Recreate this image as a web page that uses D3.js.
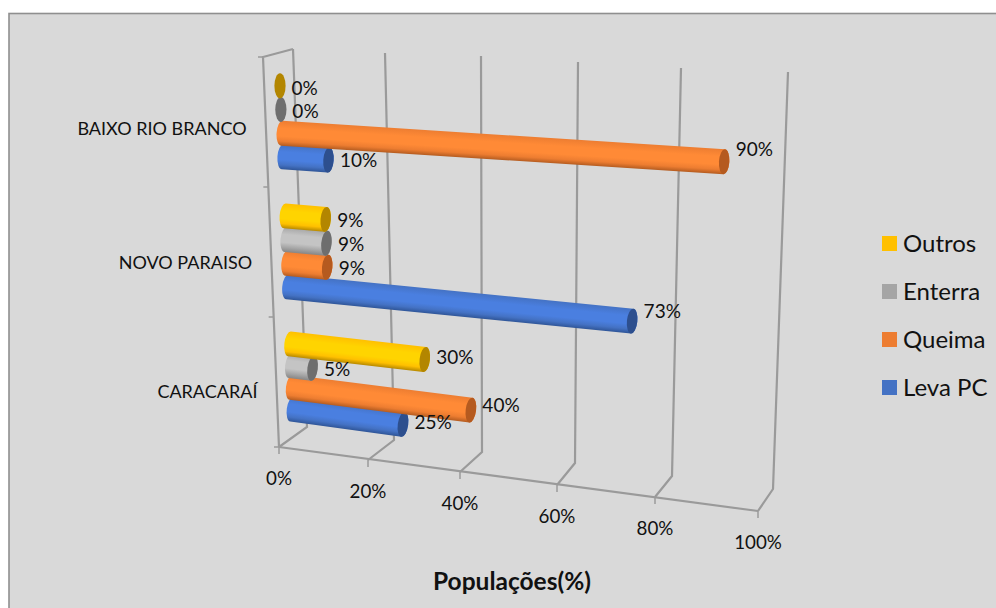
<!DOCTYPE html>
<html>
<head>
<meta charset="utf-8">
<script src="https://cdn.jsdelivr.net/npm/d3@7"></script>
<style>
html, body { margin: 0; padding: 0; background: #fff; }
svg { display: block; }
text { font-family: Lato, "Open Sans", sans-serif; fill: #111; }
</style>
</head>
<body>
<svg id="chart" width="996" height="608"></svg>
<script>
// Waste destination by community, percent of population
const categories = ["BAIXO RIO BRANCO", "NOVO PARAISO", "CARACARAÍ"];
const seriesNames = ["Outros", "Enterra", "Queima", "Leva PC"];
const outros = [0, 9, 30];
const enterra = [0, 9, 5];
const queima = [90, 9, 40];
const levaPC = [10, 73, 25];
const seriesValues = [outros, enterra, queima, levaPC];
const valueTicks = [0, 20, 40, 60, 80, 100];

const W = 996, H = 608;
const svg = d3.select("#chart");

const palette = d3.scaleOrdinal().domain(seriesNames).range(["#ffc000", "#a5a5a5", "#ed7d31", "#4472c4"]);
const shades = {
  "Outros":  { edge: "#b88a00", mid: "#ffd400", end: "#b38600" },
  "Enterra": { edge: "#868686", mid: "#c4c4c4", end: "#6e6e6e" },
  "Queima":  { edge: "#b55c20", mid: "#ff8a36", end: "#b55a1f" },
  "Leva PC": { edge: "#2f5597", mid: "#4a7fe0", end: "#2d4f8e" }
};

// Perspective frame of the 3-D plot: each value maps along three edges of the box
const topX = d3.scaleLinear().domain(valueTicks).range([293, 385, 481, 578, 681, 788]);
const topY = d3.scaleLinear().domain(valueTicks).range([49, 53, 56, 62, 68, 72]);
const backX = d3.scaleLinear().domain(valueTicks).range([307, 394, 482, 575, 672, 773]);
const backY = d3.scaleLinear().domain(valueTicks).range([427, 440, 452, 463, 476, 489]);
const frontX = d3.scaleLinear().domain(valueTicks).range([279, 368, 460, 557, 655, 758]);
const frontY = d3.scaleLinear().domain(valueTicks).range([447, 460, 472, 485, 497, 511]);

// v: value, h: 0 top to 1 bottom, d: 0 back wall to 1 front edge
function project(v, h, d) {
  return [
    topX(v) + h * (backX(v) - topX(v)) + d * (frontX(v) - backX(v)),
    topY(v) + h * (backY(v) - topY(v)) + d * (frontY(v) - backY(v))
  ];
}

// Category centres down the wall, and the series stacked around each centre
const catCentre = d3.scaleOrdinal().domain(categories).range([0.165, 0.509, 0.84]);
const catSpread = d3.scaleOrdinal().domain(categories).range([1, 1, 0.92]);
const seriesOffset = d3.scalePoint().domain(seriesNames).range([-0.094, 0.094]);
const barCentre = (cat, s) => catCentre(cat) + seriesOffset(s) * catSpread(cat);

// Chart area
svg.append("rect").attr("x", 9).attr("y", 13.5).attr("width", W - 8).attr("height", H)
  .attr("fill", "#d9d9d9").attr("stroke", "#8f8f8f").attr("stroke-width", 1.6);

// Gradients run across the cylinder so the bars read as round
const defs = svg.append("defs");
seriesNames.forEach((s, i) => {
  const g = defs.append("linearGradient").attr("id", "cyl" + i)
    .attr("x1", 0).attr("x2", 0).attr("y1", 0).attr("y2", 1);
  g.append("stop").attr("offset", "0%").attr("stop-color", palette(s));
  g.append("stop").attr("offset", "30%").attr("stop-color", shades[s].mid);
  g.append("stop").attr("offset", "62%").attr("stop-color", shades[s].mid);
  g.append("stop").attr("offset", "82%").attr("stop-color", palette(s));
  g.append("stop").attr("offset", "100%").attr("stop-color", shades[s].edge);
});

// Walls and floor
const frameColor = "#9a9a9a";
const frame = svg.append("g").attr("fill", "none").attr("stroke", frameColor).attr("stroke-width", 2.2);
const line = d3.line();
valueTicks.forEach(v => {
  frame.append("path").attr("d", line([
    [topX(v), topY(v)], [backX(v), backY(v)], [frontX(v), frontY(v)]
  ]));
  frame.append("path").attr("stroke-width", 1.5).attr("d", line([
    [frontX(v), frontY(v)], [frontX(v), frontY(v) + 7]
  ]));
});
frame.append("path").attr("d", line([
  [frontX(0), frontY(0)], [frontX(100), frontY(100)]
]));
// Left wall edge with the category ticks
const edgeY = d3.scaleLinear().domain([0, 1]).range([57, 447]);
const edgeX = d3.scaleLinear().domain([0, 1]).range([263, 279]);
frame.append("path").attr("d", line([
  [topX(0), topY(0)], [edgeX(0), edgeY(0)], [edgeX(1), edgeY(1)]
]));
[0, 1 / 3, 2 / 3, 1].forEach(t => {
  frame.append("path").attr("stroke-width", 1.5).attr("d", line([
    [edgeX(t) - 5, edgeY(t)], [edgeX(t), edgeY(t)]
  ]));
});

// Cylinder bars, drawn in the local frame of their own axis
const depth = 0.5, ry = 12.5;
const rxOf = v => (v === 0 ? 5.6 : 5.2);
const flat = [];
seriesNames.forEach((s, si) => categories.forEach((c, ci) => {
  flat.push({ s, si, c, v: seriesValues[si][ci] });
}));
// Later series sit behind earlier ones
const barOrder = flat.slice().sort((a, b) => d3.descending(a.si, b.si));

const bars = svg.append("g").selectAll("g").data(barOrder).join("g")
  .attr("transform", d => {
    const h = barCentre(d.c, d.s);
    const a = project(0, h, depth), b = project(d.v, h, depth);
    d.len = Math.hypot(b[0] - a[0], b[1] - a[1]);
    d.end = b;
    const angle = Math.atan2(b[1] - a[1], b[0] - a[0]) * 180 / Math.PI;
    return `translate(${a[0]},${a[1]}) rotate(${d.v === 0 ? 0 : angle})`;
  });

bars.filter(d => d.v > 0).append("path")
  .attr("fill", d => `url(#cyl${d.si})`)
  .attr("d", d => {
    const rx = rxOf(d.v);
    return `M0,${-ry}L${d.len},${-ry}A${rx},${ry} 0 0 1 ${d.len},${ry}L0,${ry}A${rx},${ry} 0 0 1 0,${-ry}Z`;
  });
bars.append("ellipse")
  .attr("cx", d => d.len).attr("cy", 0)
  .attr("rx", d => rxOf(d.v)).attr("ry", ry)
  .attr("fill", d => shades[d.s].end);

// Data labels
svg.append("g").selectAll("text").data(flat).join("text")
  .attr("x", d => d.end[0] + 11.5)
  .attr("y", d => d.end[1] + 2 - 0.16 * d.v)
  .attr("dy", "0.36em")
  .attr("font-size", 19)
  .text(d => d.v + "%");

// Value axis labels
svg.append("g").selectAll("text").data(valueTicks).join("text")
  .attr("x", v => frontX(v))
  .attr("y", v => frontY(v) + 31)
  .attr("dy", "0.36em")
  .attr("text-anchor", "middle")
  .attr("font-size", 18.8)
  .text(v => v + "%");

// Category labels, right aligned along the slanted edge
svg.append("g").selectAll("text").data(categories).join("text")
  .attr("x", c => edgeX(catCentre(c)) - 19)
  .attr("y", c => edgeY(catCentre(c)) + 7)
  .attr("dy", "0.36em")
  .attr("text-anchor", "end")
  .attr("font-size", 18)
  .text(c => c);

// Axis title
svg.append("text").attr("x", 512).attr("y", 590).attr("text-anchor", "middle")
  .attr("font-size", 24.5).attr("font-weight", 700).text("Populações(%)");

// Legend
const legendY = d3.scalePoint().domain(seriesNames).range([243.5, 387.5]);
const legend = svg.append("g").selectAll("g").data(seriesNames).join("g")
  .attr("transform", s => `translate(882,${legendY(s)})`);
legend.append("rect").attr("y", -7.5).attr("width", 15).attr("height", 15).attr("fill", s => palette(s));
legend.append("text").attr("x", 21).attr("dy", "0.36em").attr("font-size", 24).text(s => s);
</script>
</body>
</html>
